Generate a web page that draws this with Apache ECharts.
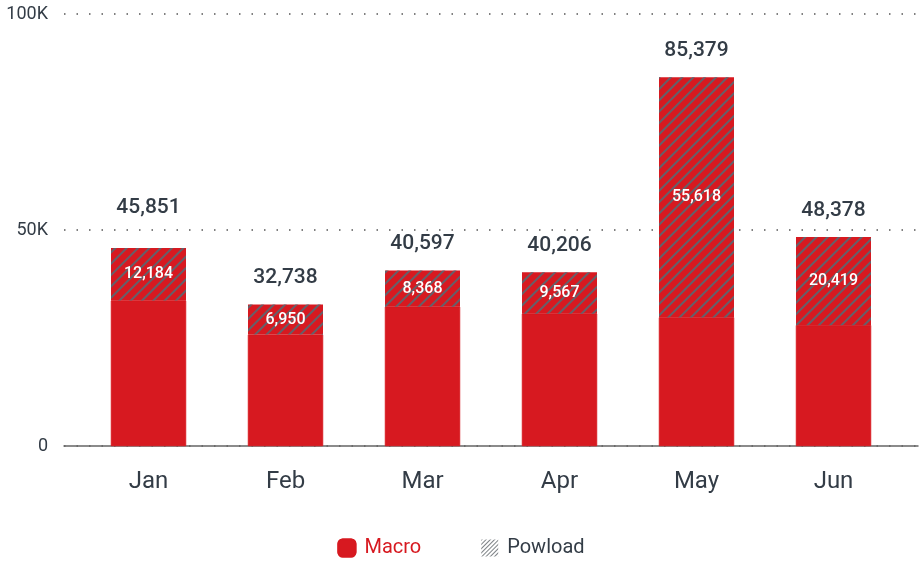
<!DOCTYPE html>
<html lang="en">
<head>
    <meta charset="UTF-8">
    <title>Macro / Powload</title>
    <script src="https://cdn.jsdelivr.net/npm/echarts@6/dist/echarts.min.js"></script>
    <style>
        body { margin: 0; background: #fff; }
    </style>
</head>
<body>

<div id="main" style="width: 922px;height:565px;"></div>
<script type="text/javascript">

    // data
    var months = ['Jan', 'Feb', 'Mar', 'Apr', 'May', 'Jun'];
    var totals = [45851, 32738, 40597, 40206, 85379, 48378];
    var powload = [12184, 6950, 8368, 9567, 55618, 20419];
    var macro = [33667, 25788, 32229, 30639, 29761, 27959];
    var yTicks = [0, 50000, 100000];

    var red = '#d71920';
    var ink = '#333c46';
    var font = 'Roboto, sans-serif';

    // diagonal stripes for Powload
    var hatch = {
        symbol: 'rect',
        symbolSize: 1,
        dashArrayX: [1, 0],
        dashArrayY: [1.6, 5.4],
        rotation: -Math.PI / 4,
        color: 'rgba(88,104,114,0.9)'
    };
    var legendHatch = {
        symbol: 'rect',
        symbolSize: 1,
        dashArrayX: [1, 0],
        dashArrayY: [1, 1.6],
        rotation: -Math.PI / 4,
        color: 'rgba(110,115,120,0.9)'
    };
    var noHatch = {
        symbol: 'none',
        color: 'rgba(0,0,0,0)'
    };

    var totalData = totals.map(function (t, i) {
        var item = {value: 0};
        if (i === 0) item.label = {distance: 30};
        return item;
    });

    var option = {
        textStyle: {fontFamily: font},
        animation: false,
        aria: {enabled: true, decal: {show: true}, label: {enabled: false}},
        grid: [
            {left: 64, right: 4, top: 14, bottom: 119},
            {left: 80, width: 822, top: 14, bottom: 119}
        ],
        xAxis: [
            {
                gridIndex: 0, type: 'value', min: 0, max: 1,
                axisLine: {show: true, onZero: false, lineStyle: {color: '#666', width: 1.5}},
                axisTick: {show: false}, axisLabel: {show: false}, splitLine: {show: false}
            },
            {
                gridIndex: 1, type: 'category', data: months,
                axisLine: {show: false}, axisTick: {show: false},
                axisLabel: {color: ink, fontSize: 24, margin: 24, fontFamily: font}
            }
        ],
        yAxis: [
            {
                gridIndex: 0, type: 'value', min: 0, max: 100000, interval: 50000,
                axisLine: {show: false}, axisTick: {show: false},
                axisLabel: {
                    color: ink, fontSize: 18, margin: 16, fontFamily: font,
                    formatter: function (v) {
                        return yTicks.indexOf(v) >= 0 && v > 0 ? (v / 1000) + 'K' : '0';
                    }
                },
                splitLine: {
                    show: true,
                    lineStyle: {color: '#555', type: [1.5, 11], width: 1.5}
                }
            },
            {
                gridIndex: 1, type: 'value', min: 0, max: 100000, show: false
            }
        ],
        legend: {
            bottom: 2,
            left: 'center',
            itemGap: 60,
            itemWidth: 17,
            itemHeight: 17,
            data: [
                {name: 'Macro', icon: 'roundRect', textStyle: {color: red}},
                {name: 'Powload', icon: 'rect', itemStyle: {color: '#fff', decal: legendHatch}, textStyle: {color: ink}}
            ],
            textStyle: {fontSize: 20, fontFamily: font, padding: [0, 0, 0, 4]}
        },
        series: [
            {
                name: 'Macro', type: 'bar', stack: 'a',
                xAxisIndex: 1, yAxisIndex: 1,
                barWidth: 75,
                itemStyle: {color: red, borderColor: red, borderWidth: 0.6, decal: noHatch},
                data: macro
            },
            {
                name: 'Powload', type: 'bar', stack: 'a',
                xAxisIndex: 1, yAxisIndex: 1,
                barWidth: 75,
                itemStyle: {color: red, decal: hatch},
                label: {
                    show: true, position: 'inside', color: '#fff',
                    fontSize: 16, fontWeight: 500, fontFamily: font,
                    formatter: function (p) { return p.value.toLocaleString('en-US'); }
                },
                data: powload
            },
            {
                name: 'total', type: 'bar', stack: 'a',
                xAxisIndex: 1, yAxisIndex: 1,
                barWidth: 75,
                itemStyle: {color: 'rgba(0,0,0,0)', decal: noHatch},
                label: {
                    show: true, position: 'top', distance: 16,
                    color: ink, fontSize: 21, fontWeight: 500, fontFamily: font,
                    formatter: function (p) { return totals[p.dataIndex].toLocaleString('en-US'); }
                },
                data: totalData
            }
        ]
    };

    var myChart = echarts.init(document.getElementById('main'));
    myChart.setOption(option);

</script>

</body>
</html>
